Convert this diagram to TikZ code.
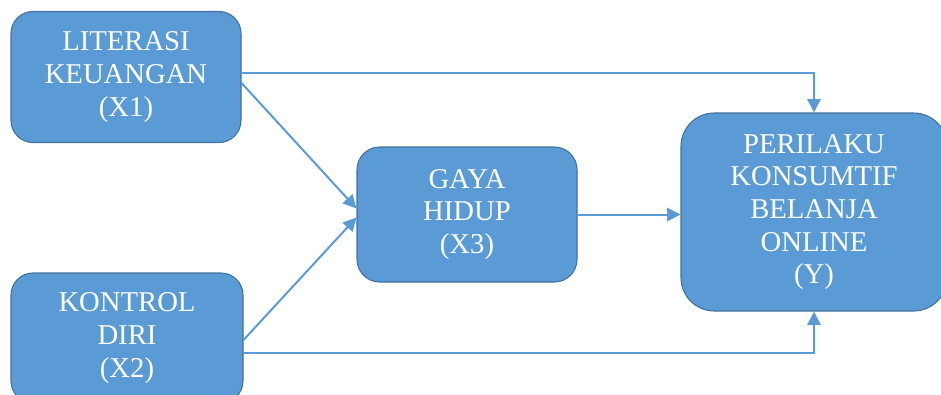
\documentclass[tikz,border=0pt]{standalone}
\usepackage{fontspec}
\setmainfont{Liberation Serif}
\usetikzlibrary{arrows.meta,calc}
\definecolor{boxfill}{HTML}{5B9BD5}
\definecolor{boxline}{HTML}{41719C}
\definecolor{linkcol}{HTML}{5B9BD5}
\tikzset{
  varbox/.style={draw=boxline, line width=0.8pt, fill=boxfill, text=white,
    align=center, inner sep=0pt,
    font=\fontsize{21.5pt}{24.5pt}\selectfont},
  link/.style={draw=linkcol, line width=1.5pt,
    -{Triangle[length=10pt,width=10pt]}}
}
\begin{document}
\begin{tikzpicture}[x=0.75pt,y=-0.75pt]
  \useasboundingbox (0,0) rectangle (941,394);

  % variable boxes
  \node[varbox, minimum width=172.5pt, minimum height=98.25pt,
        rounded corners=16.5pt] (x1) at (126,77)
        {LITERASI\\KEUANGAN\\(X1)};
  \node[varbox, minimum width=174pt, minimum height=97.5pt,
        rounded corners=16.5pt] (x2) at (127,338)
        {KONTROL\\DIRI\\(X2)};
  \node[varbox, minimum width=165pt, minimum height=101.25pt,
        rounded corners=17pt] (x3) at (467,214.5)
        {GAYA\\HIDUP\\(X3)};
  \node[varbox, minimum width=199.5pt, minimum height=148.5pt,
        rounded corners=25pt] (y) at (814,212)
        {PERILAKU\\KONSUMTIF\\BELANJA\\ONLINE\\(Y)};

  % direct effects on Y
  \draw[link] ($(x1.east)+(0,-4)$) -| (y.north);
  \draw[link] ($(x2.east)+(0,15)$) -| (y.south);

  % paths through the mediator
  \draw[link] ($(x1.east)+(0,6)$) -- ($(x3.west)+(0,-6)$);
  \draw[link] ($(x2.east)+(0,2)$) -- ($(x3.west)+(0,3)$);
  \draw[link] (x3.east) -- (x3.east -| y.west);
\end{tikzpicture}
\end{document}
